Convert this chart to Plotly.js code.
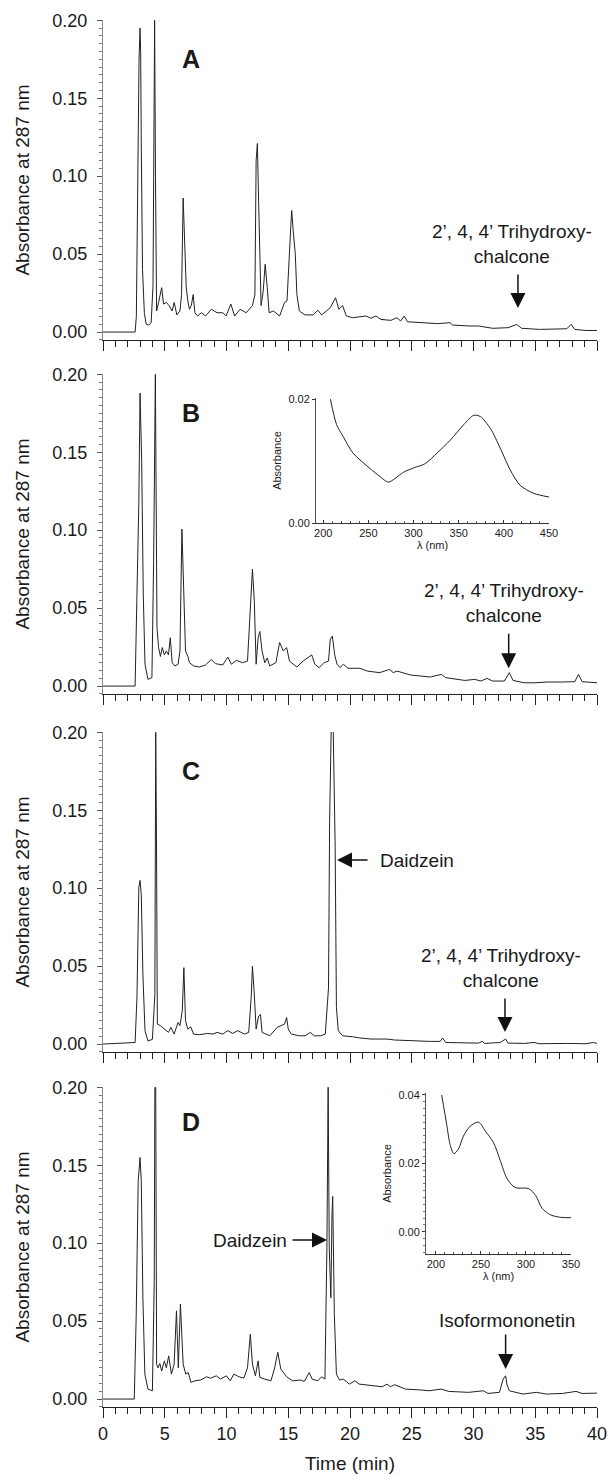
<!DOCTYPE html>
<html><head><meta charset="utf-8">
<script src="https://cdn.plot.ly/plotly-3.0.1.min.js"></script>
<style>body{margin:0;background:#fff}#chart{width:615px;height:1474px}</style>
</head><body><div id="chart"></div>
<script>
// Chromatograms: [time (min), absorbance at 287 nm]
const chromA = [[0,0],[2.6,0],[2.7,0.01],[2.78,0.08],[2.85,0.15],[2.92,0.175],[3.0,0.195],[3.05,0.18],[3.1,0.12],[3.2,0.04],[3.35,0.012],[3.5,0.005],[3.7,0.0045],[3.9,0.006],[4.05,0.03],[4.1,0.15],[4.18,0.2],[4.25,0.1],[4.3,0.03],[4.34,0.0135],[4.5,0.019],[4.75,0.0285],[4.9,0.018],[5.13,0.019],[5.35,0.017],[5.6,0.0135],[5.76,0.019],[5.98,0.011],[6.23,0.0135],[6.36,0.024],[6.49,0.086],[6.6,0.065],[6.74,0.0285],[6.87,0.02],[7.0,0.0146],[7.15,0.017],[7.3,0.024],[7.44,0.0124],[7.66,0.0103],[7.97,0.0124],[8.3,0.0103],[8.77,0.0146],[9.24,0.0124],[9.7,0.0124],[9.97,0.0103],[10.35,0.018],[10.66,0.0103],[11.1,0.0146],[11.6,0.0124],[12.1,0.017],[12.3,0.024],[12.4,0.11],[12.5,0.121],[12.6,0.084],[12.7,0.037],[12.8,0.017],[12.97,0.026],[13.13,0.0435],[13.3,0.0285],[13.45,0.0124],[13.8,0.0135],[14.3,0.0103],[14.7,0.019],[14.9,0.02],[15.2,0.067],[15.28,0.078],[15.4,0.065],[15.57,0.05],[15.7,0.024],[15.9,0.0135],[16.36,0.011],[17.0,0.011],[17.4,0.014],[17.7,0.011],[18.4,0.0156],[18.83,0.022],[19.1,0.0146],[19.4,0.017],[19.7,0.0103],[20.2,0.0092],[21.3,0.0103],[21.7,0.0088],[22.1,0.0103],[22.5,0.0081],[23.3,0.0075],[23.8,0.0092],[24.1,0.0071],[24.4,0.0103],[24.65,0.0066],[25.85,0.006],[26.5,0.0058],[27.1,0.0054],[28.1,0.006],[28.3,0.0045],[29.65,0.0039],[30.4,0.0039],[31.55,0.0024],[32.8,0.0028],[33.5,0.0049],[33.9,0.0024],[35.35,0.0017],[36.6,0.0017],[37.55,0.0021],[37.9,0.0049],[38.2,0.0017],[39.1,0.001],[40,0.001]];

const chromB = [[0,0],[2.6,0],[2.75,0.059],[2.9,0.117],[3.0,0.188],[3.13,0.145],[3.26,0.059],[3.4,0.014],[3.64,0.0043],[3.96,0.0054],[4.1,0.08],[4.24,0.2],[4.37,0.0375],[4.5,0.0247],[4.65,0.019],[4.8,0.0247],[4.97,0.02],[5.13,0.0225],[5.3,0.02],[5.45,0.031],[5.6,0.015],[5.82,0.0129],[6.08,0.014],[6.23,0.0225],[6.39,0.1007],[6.55,0.059],[6.68,0.0225],[6.87,0.019],[7.0,0.015],[7.34,0.0129],[7.8,0.0122],[8.3,0.0135],[8.77,0.0171],[9.1,0.0144],[9.7,0.0135],[10.1,0.0186],[10.4,0.014],[10.8,0.0165],[11.3,0.015],[11.7,0.016],[11.93,0.046],[12.1,0.075],[12.25,0.0547],[12.4,0.014],[12.56,0.031],[12.7,0.035],[12.88,0.0225],[13.1,0.015],[13.3,0.018],[13.5,0.0129],[14.0,0.015],[14.3,0.0279],[14.6,0.0225],[14.87,0.0247],[15.1,0.016],[15.4,0.014],[15.7,0.0122],[16.2,0.016],[16.9,0.02],[17.15,0.014],[17.5,0.0118],[17.9,0.015],[18.26,0.016],[18.4,0.03],[18.57,0.032],[18.76,0.02],[18.95,0.014],[19.2,0.0118],[19.46,0.014],[19.84,0.0114],[20.8,0.0114],[21.4,0.0096],[22.4,0.0086],[23.2,0.0107],[23.5,0.0086],[23.8,0.0096],[24.9,0.0071],[26.5,0.0058],[27.4,0.0075],[27.75,0.0054],[29.3,0.0036],[30.1,0.0043],[30.6,0.0032],[31.1,0.0049],[31.55,0.0032],[32.5,0.0032],[32.9,0.0086],[33.2,0.0036],[34.1,0.0021],[35.0,0.0021],[35.95,0.0026],[37.2,0.0026],[38.2,0.0028],[38.5,0.0075],[38.8,0.0028],[40,0.0021]];

const chromC = [[0,0],[2.6,0.001],[2.75,0.03],[2.9,0.1005],[3.0,0.105],[3.1,0.096],[3.23,0.045],[3.4,0.0086],[3.64,0.002],[4.0,0.003],[4.2,0.032],[4.27,0.2],[4.33,0.133],[4.4,0.0128],[4.65,0.0118],[4.97,0.0096],[5.3,0.0075],[5.5,0.0107],[5.76,0.0064],[6.08,0.0139],[6.23,0.0118],[6.42,0.0214],[6.55,0.049],[6.68,0.015],[6.87,0.0096],[7.1,0.0111],[7.34,0.0064],[7.8,0.006],[8.45,0.0068],[8.9,0.0064],[9.24,0.0075],[9.7,0.0064],[10.1,0.0086],[10.5,0.0068],[10.9,0.0086],[11.45,0.0064],[11.8,0.0075],[12.0,0.03],[12.1,0.05],[12.25,0.032],[12.4,0.0096],[12.6,0.018],[12.75,0.019],[12.88,0.0075],[13.2,0.0064],[13.5,0.0053],[14.1,0.0107],[14.4,0.0118],[14.7,0.0128],[14.87,0.017],[15.0,0.0096],[15.25,0.0064],[15.9,0.0053],[16.36,0.0053],[16.8,0.0075],[17.1,0.0053],[17.6,0.0053],[18.0,0.0064],[18.26,0.036],[18.35,0.143],[18.56,0.24],[18.8,0.126],[18.9,0.0235],[19.05,0.0086],[19.4,0.0053],[20.2,0.0047],[20.8,0.0039],[21.7,0.0032],[23.0,0.0032],[23.6,0.0026],[24.9,0.0021],[26.5,0.0017],[27.3,0.0017],[27.5,0.0039],[27.75,0.001],[29.0,0.0006],[30.4,0.0006],[30.7,0.0017],[30.9,0.0004],[32.15,0.001],[32.6,0.0032],[32.8,0.0006],[34.1,0.0004],[34.9,0.001],[35.3,0.0002],[37.6,0.0004],[39.1,0.0002],[39.7,0.001],[40,0.0004]];

const chromD = [[0,0],[2.53,0],[2.69,0.054],[2.85,0.14],[3.0,0.155],[3.1,0.14],[3.23,0.065],[3.39,0.016],[3.64,0.0064],[4.0,0.0053],[4.15,0.076],[4.2,0.2],[4.27,0.2],[4.34,0.0224],[4.46,0.02],[4.6,0.0228],[4.75,0.018],[4.97,0.0245],[5.13,0.02],[5.32,0.0277],[5.54,0.016],[5.76,0.0224],[5.95,0.0566],[6.1,0.02],[6.27,0.061],[6.4,0.0416],[6.49,0.0224],[6.7,0.016],[6.9,0.017],[7.12,0.0107],[7.44,0.0117],[7.9,0.0122],[8.4,0.0143],[8.7,0.0134],[9.18,0.0149],[9.5,0.0128],[10.0,0.0149],[10.3,0.0117],[10.6,0.016],[11.0,0.0143],[11.4,0.0134],[11.7,0.02],[11.93,0.0416],[12.1,0.0224],[12.34,0.0149],[12.56,0.0245],[12.7,0.0139],[13.1,0.0128],[13.6,0.0117],[13.9,0.02],[14.15,0.03],[14.4,0.0192],[14.87,0.0143],[15.35,0.0117],[16.0,0.0122],[16.3,0.0113],[16.7,0.017],[16.93,0.0128],[17.4,0.0117],[17.7,0.0143],[17.97,0.0128],[18.13,0.097],[18.23,0.2],[18.32,0.097],[18.45,0.065],[18.54,0.118],[18.6,0.13],[18.73,0.0544],[18.9,0.016],[19.15,0.0122],[19.46,0.0128],[19.94,0.0096],[20.4,0.0117],[20.73,0.0096],[21.7,0.0085],[22.6,0.0079],[23.0,0.0096],[23.26,0.0079],[23.6,0.0092],[24.5,0.0064],[25.8,0.0058],[26.4,0.0053],[27.37,0.0064],[28.0,0.0049],[29.6,0.0043],[30.8,0.0053],[31.17,0.0036],[32.1,0.0043],[32.4,0.0128],[32.6,0.0149],[32.7,0.0096],[32.9,0.0053],[34.0,0.0032],[35.1,0.0043],[35.9,0.0032],[37.2,0.0036],[38.3,0.0049],[38.8,0.0036],[40,0.0038]];

// UV spectra (insets)
const specB_wl  = [208, 214.8, 222, 233, 251.8, 262.9, 272, 279.6, 288.9, 300, 313, 326, 340.8, 355.6, 366.7, 374, 385, 396, 407, 418, 433, 450];
const specB_abs = [0.020, 0.0159, 0.0140, 0.0113, 0.0088, 0.0075, 0.0066, 0.0072, 0.0082, 0.0089, 0.0096, 0.0113, 0.0134, 0.0159, 0.0174, 0.0172, 0.0153, 0.0121, 0.0086, 0.0061, 0.0048, 0.0042];
const specD_wl  = [206.4, 212, 215.7, 220, 225, 230.5, 238, 247.3, 254.8, 264, 271.6, 279, 288, 303, 310.7, 318, 327.5, 338.7, 350];
const specD_abs = [0.0399, 0.0313, 0.0255, 0.0228, 0.0241, 0.0279, 0.0308, 0.032, 0.0294, 0.026, 0.0207, 0.0155, 0.0129, 0.0126, 0.0106, 0.0068, 0.0049, 0.0042, 0.0041];

const panelLetters = ['A','B','C','D'];
const chalconeLabel = '2’, 4, 4’ Trihydroxy-<br>chalcone';

// ---------- layout geometry ----------
const W = 615, H = 1474, L = 103, R = 18, T = 20, B = 67;
const plotW = W - L - R, plotH = H - T - B;
const px = p => (p - L) / plotW;
const py = p => (H - B - p) / plotH;
const FONT = 'Arial, "Liberation Sans", Helvetica, sans-serif';
const INK = '#1a1a1a';

const panelPix = [[20, 340], [374, 694], [732, 1052], [1087, 1407]];
const chroms = [chromA, chromB, chromC, chromD];

const traces = [];
const layout = {
  width: W, height: H, margin: {l: L, r: R, t: T, b: B},
  paper_bgcolor: '#fff', plot_bgcolor: 'rgba(0,0,0,0)',
  showlegend: false, font: {family: FONT, color: INK},
  annotations: []
};

chroms.forEach((c, i) => {
  const n = i + 1;
  const xs = 'x' + (n === 1 ? '' : n), ys = 'y' + (n === 1 ? '' : n);
  traces.push({x: c.map(p => p[0]), y: c.map(p => p[1]), xaxis: xs, yaxis: ys,
    type: 'scatter', mode: 'lines', line: {color: '#222', width: 1}, hoverinfo: 'skip'});
  const [top, bot] = panelPix[i];
  layout['yaxis' + (n === 1 ? '' : n)] = {
    domain: [py(bot), py(top)], anchor: xs, range: [-0.0051, 0.2002],
    showline: true, linecolor: '#8a8a8a', linewidth: 1,
    ticks: 'outside', ticklen: 5, tickcolor: '#555', tick0: 0, dtick: 0.05, tickformat: '.2f',
    tickfont: {size: 18, color: INK}, ticklabelstandoff: 6,
    minor: {ticks: 'outside', ticklen: 3, tickcolor: '#777', tick0: 0, dtick: 0.005},
    showgrid: false, zeroline: false,
    title: {text: 'Absorbance at 287 nm', font: {size: 19, color: INK}, standoff: 17}
  };
  layout['xaxis' + (n === 1 ? '' : n)] = {
    domain: [0, 1], anchor: ys, range: [0, 40],
    showline: true, linecolor: '#222', linewidth: 1,
    ticks: 'outside', ticklen: 10, tickcolor: '#222', tick0: 0, dtick: 5,
    showticklabels: n === 4, tickfont: {size: 18, color: INK},
    minor: {ticks: 'outside', ticklen: 6, tickcolor: '#222', tick0: 0, dtick: 1},
    showgrid: false, zeroline: false,
    title: n === 4 ? {text: 'Time (min)', font: {size: 19, color: INK}, standoff: 15} : {text: ''}
  };
  layout.annotations.push({xref: xs, yref: ys, x: 7.1, y: i === 3 ? 0.178 : 0.175,
    text: '<b>' + panelLetters[i] + '</b>', showarrow: false, font: {size: 25, color: INK},
    xanchor: 'center', yanchor: 'middle'});
});

// insets
traces.push({x: specB_wl, y: specB_abs, xaxis: 'x5', yaxis: 'y5', type: 'scatter', mode: 'lines',
  line: {color: '#222', width: 1, shape: 'spline', smoothing: 0.8}, hoverinfo: 'skip'});
traces.push({x: specD_wl, y: specD_abs, xaxis: 'x6', yaxis: 'y6', type: 'scatter', mode: 'lines',
  line: {color: '#222', width: 1, shape: 'spline', smoothing: 0.8}, hoverinfo: 'skip'});

function insetX(dom, anchor, range) {
  return {domain: dom, anchor, range, showline: true, linecolor: '#333', linewidth: 1,
    ticks: 'inside', ticklen: 3, tickcolor: '#333', tick0: 200, dtick: 50,
    minor: {ticks: 'inside', ticklen: 2, tickcolor: '#555', dtick: 10},
    tickfont: {size: 11, color: INK}, showgrid: false, zeroline: false,
    title: {text: 'λ (nm)', font: {size: 11, color: INK}, standoff: 1}};
}
function insetY(dom, anchor, range, minor) {
  return {domain: dom, anchor, range, showline: true, linecolor: '#555', linewidth: 1,
    ticks: 'outside', ticklen: 3, tickcolor: '#333', tick0: 0, dtick: 0.02, tickformat: '.2f',
    minor: {ticks: 'outside', ticklen: 2, tickcolor: '#777', dtick: minor},
    tickfont: {size: 11, color: INK}, showgrid: false, zeroline: false,
    title: {text: 'Absorbance', font: {size: 11, color: INK}, standoff: 4}};
}
layout.xaxis5 = insetX([px(316), px(549)], 'y5', [192, 450]);
layout.yaxis5 = insetY([py(523), py(398)], 'x5', [0, 0.0202], 0.02);
layout.xaxis6 = insetX([px(426), px(571)], 'y6', [189, 350]);
layout.yaxis6 = insetY([py(1254), py(1093)], 'x6', [-0.0065, 0.0405], 0.002);

// text labels and arrows
const txt = (xr, yr, x, y, text, xanchor) => ({xref: xr, yref: yr, x, y, text, showarrow: false,
  font: {size: 19, color: INK}, xanchor: xanchor || 'center', yanchor: 'middle', align: 'center'});
const arr = (xr, yr, x, y, ax, ay) => ({xref: xr, yref: yr, x, y, ax, ay, text: '', showarrow: true,
  arrowhead: 2, arrowsize: 2, arrowwidth: 1.5, arrowcolor: '#111'});

layout.annotations.push(
  txt('x', 'y', 33.1, 0.0564, chalconeLabel), arr('x', 'y', 33.6, 0.0154, 0, -35),
  txt('x2', 'y2', 32.5, 0.0532, chalconeLabel), arr('x2', 'y2', 32.85, 0.0115, 0, -36),
  txt('x3', 'y3', 32.2, 0.0487, chalconeLabel), arr('x3', 'y3', 32.55, 0.0077, 0, -35),
  txt('x3', 'y3', 22.27, 0.118, 'Daidzein', 'left'), arr('x3', 'y3', 18.95, 0.118, 32, 0),
  txt('x4', 'y4', 15.06, 0.102, 'Daidzein', 'right'), arr('x4', 'y4', 18.14, 0.102, -36, 0),
  txt('x4', 'y4', 32.7, 0.0506, 'Isoformononetin'), arr('x4', 'y4', 32.6, 0.0192, 0, -36)
);

Plotly.newPlot('chart', traces, layout, {staticPlot: true, displayModeBar: false});
</script>
</body></html>
